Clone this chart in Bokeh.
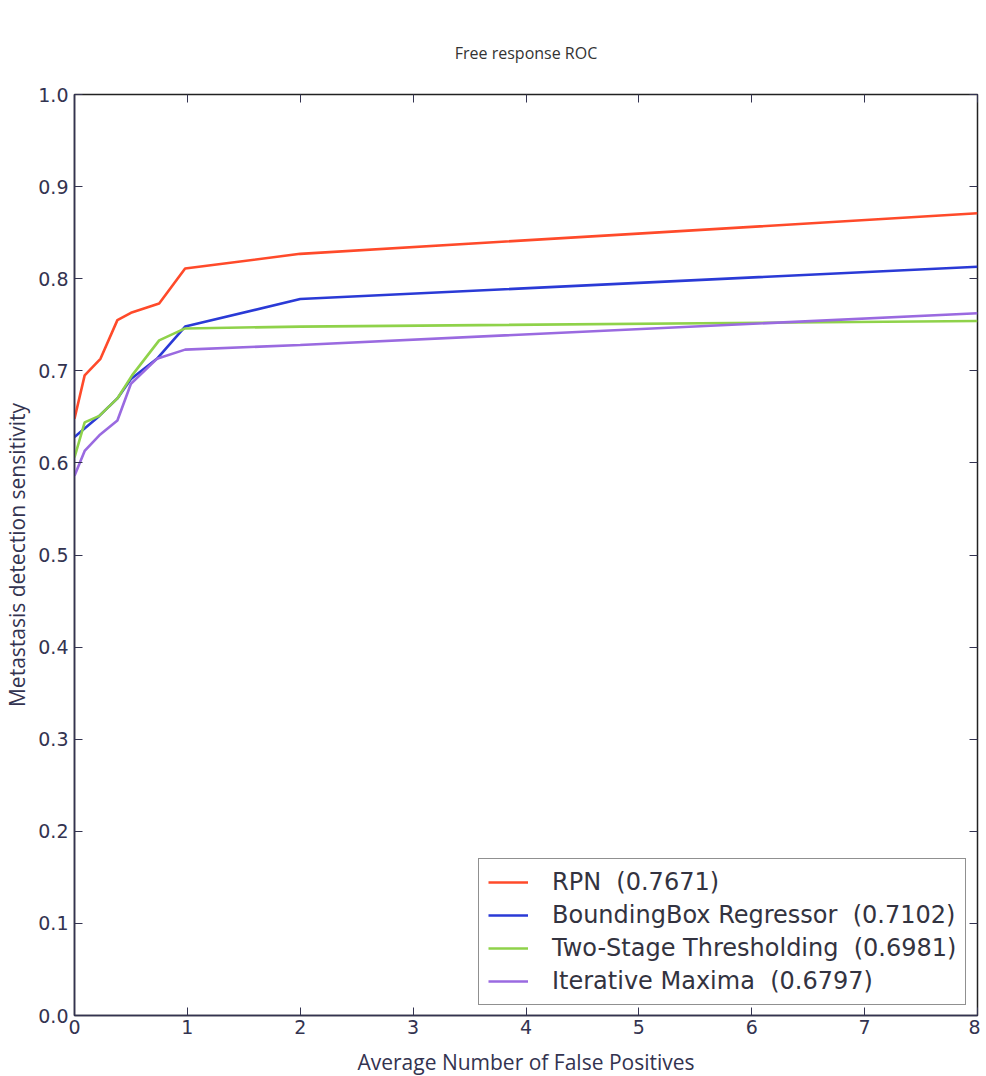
from bokeh.plotting import figure
from bokeh.models import Range1d, LinearAxis, FixedTicker, Legend, LegendItem, PrintfTickFormatter
from bokeh.embed import file_html
from bokeh.resources import INLINE

# ---- data ----
series_names = ["RPN  (0.7671)", "BoundingBox Regressor  (0.7102)",
                "Two-Stage Thresholding  (0.6981)", "Iterative Maxima  (0.6797)"]
series_colors = ["#ff4a2a", "#2a3ad6", "#8fd24a", "#9a6ae0"]

fp_rpn = [0.0, 0.09, 0.23, 0.38, 0.50, 0.75, 0.98, 2.0, 8.0]
sens_rpn = [0.648, 0.695, 0.713, 0.755, 0.763, 0.773, 0.811, 0.827, 0.871]

fp_bbox = [0.0, 0.22, 0.38, 0.50, 0.73, 0.98, 2.0, 8.0]
sens_bbox = [0.628, 0.651, 0.670, 0.691, 0.713, 0.748, 0.778, 0.813]

fp_two = [0.0, 0.09, 0.22, 0.38, 0.51, 0.75, 0.98, 2.0, 8.0]
sens_two = [0.606, 0.644, 0.651, 0.670, 0.695, 0.733, 0.746, 0.748, 0.754]

fp_iter = [0.0, 0.09, 0.22, 0.38, 0.50, 0.73, 0.98, 2.0, 8.0]
sens_iter = [0.586, 0.613, 0.630, 0.646, 0.686, 0.713, 0.723, 0.728, 0.7625]

x_ticks = [0, 1, 2, 3, 4, 5, 6, 7, 8]
y_ticks = [0.0, 0.1, 0.2, 0.3, 0.4, 0.5, 0.6, 0.7, 0.8, 0.9, 1.0]

title_text = "Free response ROC"
x_label = "Average Number of False Positives"
y_label = "Metastasis detection sensitivity"

TICK_FONT = "DejaVu Sans"
LABEL_FONT = "Open Sans"
INK = "#333350"

p = figure(output_backend="svg", toolbar_location=None,
           frame_width=903, frame_height=921,
           min_border_left=64, min_border_right=3, min_border_top=94, min_border_bottom=54,
           x_range=Range1d(0, 8), y_range=Range1d(0, 1),
           title=title_text, x_axis_label=x_label, y_axis_label=y_label)

p.title.align = "center"
p.title.text_font = LABEL_FONT
p.title.text_font_size = "16px"
p.title.text_font_style = "normal"
p.title.text_color = "#333333"
p.title.standoff = 62

p.grid.visible = False
p.outline_line_color = "#222222"
p.outline_line_width = 1.5
p.background_fill_color = "white"
p.border_fill_color = "white"

for ax in (p.xaxis[0], p.yaxis[0]):
    ax.major_tick_in = 8
    ax.major_tick_out = 0
    ax.minor_tick_line_color = None
    ax.major_tick_line_color = INK
    ax.axis_line_color = INK
    ax.axis_line_width = 1.5
    ax.major_label_text_font = TICK_FONT
    ax.major_label_text_font_size = "19px"
    ax.major_label_text_color = INK
    ax.axis_label_text_font = LABEL_FONT
    ax.axis_label_text_font_size = "21px"
    ax.axis_label_text_font_style = "normal"
    ax.axis_label_text_color = INK

p.xaxis[0].ticker = FixedTicker(ticks=x_ticks)
p.yaxis[0].ticker = FixedTicker(ticks=y_ticks)
p.yaxis[0].formatter = PrintfTickFormatter(format="%.1f")
p.xaxis[0].major_label_standoff = 4
p.yaxis[0].major_label_standoff = 6
p.xaxis[0].axis_label_standoff = 11
p.yaxis[0].axis_label_standoff = 4

# ticks on the top and right as well (labels blank)
top = LinearAxis(ticker=FixedTicker(ticks=x_ticks),
                 major_label_overrides={t: "" for t in x_ticks},
                 major_tick_in=8, major_tick_out=0, minor_tick_line_color=None,
                 axis_line_color=None, major_tick_line_color=INK, major_label_standoff=0)
right = LinearAxis(ticker=FixedTicker(ticks=y_ticks),
                   major_label_overrides={t: "" for t in y_ticks},
                   major_tick_in=8, major_tick_out=0, minor_tick_line_color=None,
                   axis_line_color=None, major_tick_line_color=INK, major_label_standoff=0)
p.add_layout(top, "above")
p.add_layout(right, "right")

xs = [fp_rpn, fp_bbox, fp_two, fp_iter]
ys = [sens_rpn, sens_bbox, sens_two, sens_iter]
items = []
for name, color, x, y in zip(series_names, series_colors, xs, ys):
    r = p.line(x, y, line_color=color, line_width=2.6)
    items.append(LegendItem(label=name, renderers=[r]))

legend = Legend(items=items, location=(404, 10))
legend.label_text_font = TICK_FONT
legend.label_text_font_size = "24px"
legend.label_text_color = "#333340"
legend.border_line_color = "#222222"
legend.border_line_width = 1.2
legend.glyph_width = 40
legend.glyph_height = 26
legend.label_height = 26
legend.spacing = 5
legend.padding = 9
legend.label_standoff = 24
legend.background_fill_alpha = 1.0
p.add_layout(legend, "center")

open("out.html", "w").write(file_html(p, INLINE))
